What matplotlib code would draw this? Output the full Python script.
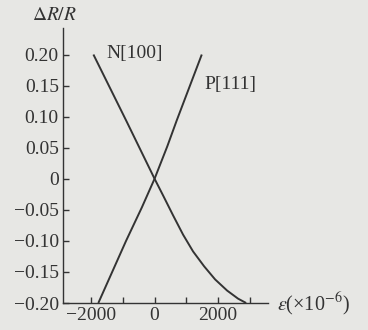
import matplotlib
matplotlib.use("Agg")
import matplotlib.pyplot as plt

# Data
n100_strain = [-1930, -880, 0, 270, 585, 900, 1215, 1565, 1910, 2290, 2635, 2890]
n100_dR = [0.200, 0.092, 0.0, -0.027, -0.059, -0.090, -0.117, -0.141, -0.162, -0.180, -0.193, -0.200]
p111_strain = [-1775, -900, -400, 0, 400, 700, 1490]
p111_dR = [-0.200, -0.100, -0.046, 0.0, 0.052, 0.094, 0.200]

x_ticks = [-2000, -1000, 0, 1000, 2000, 3000]
x_ticklabels = ['\u22122000', '', '0', '', '2000', '']
y_ticks = [0.20, 0.15, 0.10, 0.05, 0.0, -0.05, -0.10, -0.15, -0.20]
y_ticklabels = ['0.20', '0.15', '0.10', '0.05', '0',
                '\u22120.05', '\u22120.10', '\u22120.15', '\u22120.20']

plt.rcParams['font.family'] = ['Liberation Serif', 'DejaVu Serif']
plt.rcParams['mathtext.fontset'] = 'stix'

bg = '#e7e7e4'
ink = '#333333'

fig = plt.figure(figsize=(3.68, 3.30), dpi=100, facecolor=bg)
ax = fig.add_axes([63/368, (330-303)/330, (268-63)/368, (303-28)/330])
ax.set_facecolor(bg)

ax.plot(n100_strain, n100_dR, color=ink, lw=1.4, solid_capstyle='butt')
ax.plot(p111_strain, p111_dR, color=ink, lw=1.4, solid_capstyle='butt')

ax.set_xlim(-2890, 3580)
ax.set_ylim(-0.20, 0.2427)

for s in ['top', 'right']:
    ax.spines[s].set_visible(False)
for s in ['left', 'bottom']:
    ax.spines[s].set_color(ink)
    ax.spines[s].set_linewidth(1.0)

ax.set_xticks(x_ticks)
ax.set_xticklabels(x_ticklabels)
ax.set_yticks(y_ticks)
ax.set_yticklabels(y_ticklabels)
ax.tick_params(axis='both', direction='in', length=4, width=1.0, color=ink,
               labelcolor=ink, labelsize=14, pad=3)

ax.text(-1530, 0.202, 'N[100]', fontsize=14, color=ink, ha='left', va='center')
ax.text(1560, 0.151, 'P[111]', fontsize=14, color=ink, ha='left', va='center')

fig.text(32/368, 1 - 16/330, r'$\Delta R/R$', fontsize=14, color=ink,
         ha='left', va='center')
fig.text(277/368, 1 - 304/330, r'$\varepsilon$(×10$^{-6}$)', fontsize=14.5,
         color=ink, ha='left', va='center')

fig.savefig('out.png', dpi=100, facecolor=bg)
